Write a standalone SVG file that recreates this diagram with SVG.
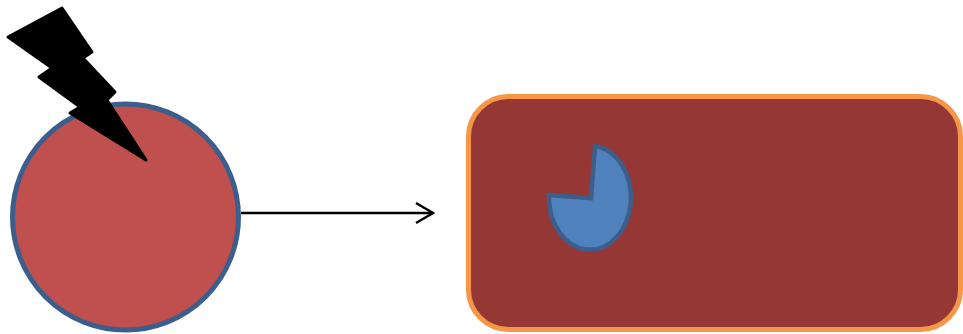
<svg xmlns="http://www.w3.org/2000/svg" width="963" height="334" viewBox="0 0 963 334">
<defs>
<style>
.circ{fill:#C0504D;stroke:#3B5E8C;stroke-width:5}
.box{fill:#953735;stroke:#F79646;stroke-width:5}
.pie{fill:#4F81BD;stroke:#3B5E8C;stroke-width:4.5;stroke-linejoin:miter}
.bolt{fill:#000;stroke:#000;stroke-width:3;stroke-linejoin:round}
.conn{fill:none;stroke:#000;stroke-width:2.5}
</style>
<marker id="arr" viewBox="0 0 20 24" refX="18" refY="12" markerWidth="20" markerHeight="24" markerUnits="userSpaceOnUse" orient="auto">
<path d="M1,2 L18,12 L1,22" fill="none" stroke="#000" stroke-width="2.5"/>
</marker>
</defs>
<g id="source">
<circle class="circ" cx="125.5" cy="217" r="113"/>
</g>
<g id="bolt">
<path class="bolt" d="M62,8 L92,52 L83,58 L115,92 L107,100 L146,160 L70,113 L80,107 L39,77 L52,68 L8,37 Z"/>
</g>
<g id="target">
<rect class="box" x="468.5" y="96.5" width="492" height="233" rx="40" ry="40"/>
</g>
<g id="pie">
<path class="pie" d="M591,198 L595,146 A41 52 0 1 1 549,195 Z"/>
</g>
<g id="connectors">
<line class="conn" x1="241" y1="213" x2="433" y2="213" marker-end="url(#arr)"/>
</g>
</svg>
